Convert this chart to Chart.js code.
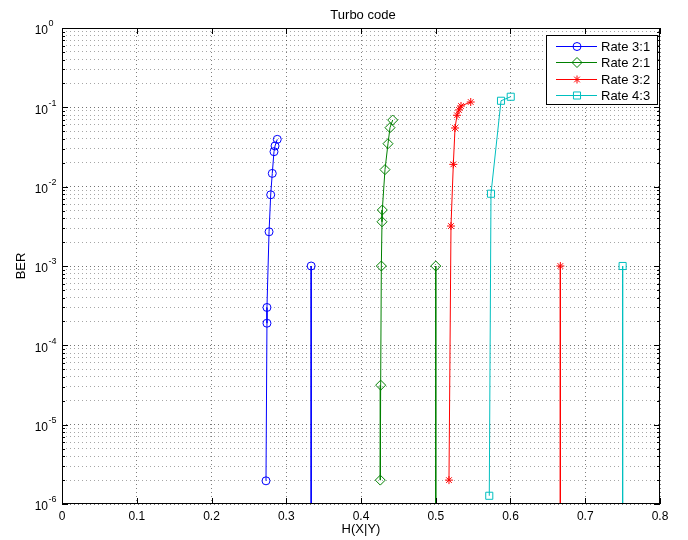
<!DOCTYPE html>
<html>
<head>
<meta charset="utf-8">
<script src="https://cdn.jsdelivr.net/npm/chart.js@4.4.1/dist/chart.umd.min.js"></script>
<style>
  html, body { margin: 0; padding: 0; background: #fff; }
</style>
</head>
<body>
<canvas id="berChart" width="688" height="540"></canvas>
<script>
// values
const seriesNames = ["Rate 3:1", "Rate 2:1", "Rate 3:2", "Rate 4:3"];

const rate31X = [0.288, 0.285, 0.2836, 0.2813, 0.2792, 0.277, 0.2742, 0.2742, 0.2729];
const rate31Y = [0.0395, 0.0326, 0.0276, 0.0147, 0.0079, 0.0027, 3.0e-4, 1.9e-4, 1.96e-6];

const rate21X = [0.4424, 0.4388, 0.4361, 0.4321, 0.4285, 0.4281, 0.4272, 0.4263, 0.4258];
const rate21Y = [0.0692, 0.0554, 0.0348, 0.0164, 0.00508, 0.00361, 1.0e-3, 3.15e-5, 2.0e-6];

const rate32X = [0.5468, 0.5338, 0.5311, 0.5284, 0.5258, 0.5235, 0.5204, 0.5177];
const rate32Y = [0.1167, 0.104, 0.0927, 0.0794, 0.0549, 0.0191, 0.00319, 2.0e-6];

const rate43X = [0.5716, 0.5739, 0.5873, 0.6003];
const rate43Y = [1.27e-6, 0.00815, 0.121, 0.136];

// capacity limits: a marker at 1e-3 and a line dropping off the bottom
const limitX = [1 / 3, 0.5, 2 / 3, 0.75];
const limitTopY = 1e-3;
const limitBottomY = 1e-9;

const xTicks = [0, 0.1, 0.2, 0.3, 0.4, 0.5, 0.6, 0.7, 0.8];
const xTickLabels = ["0", "0.1", "0.2", "0.3", "0.4", "0.5", "0.6", "0.7", "0.8"];
const yDecades = [-6, -5, -4, -3, -2, -1, 0];
const yExponentLabels = ["-6", "-5", "-4", "-3", "-2", "-1", "0"];

const colors = ["#0000ff", "#008000", "#ff0000", "#00bfbf"];
const markers = ["circle", "rectRot", "star", "rect"];
const markerSizes = [4, 5, 4, 5];

const FONT = "'Liberation Sans', Arial, Helvetica, sans-serif";

const yTickValues = [];
yDecades.forEach(d => {
  yTickValues.push(Math.pow(10, d));
  if (d < 0) {
    for (let m = 2; m <= 9; m++) yTickValues.push(m * Math.pow(10, d));
  }
});

function isDecade(v) {
  const l = Math.log10(v);
  return Math.abs(l - Math.round(l)) < 1e-9;
}

function points(xs, ys) {
  return xs.map((x, i) => ({ x: x, y: ys[i] }));
}

const curveXs = [rate31X, rate21X, rate32X, rate43X];
const curveYs = [rate31Y, rate21Y, rate32Y, rate43Y];

const datasets = [];
seriesNames.forEach((name, i) => {
  datasets.push({
    label: name,
    data: points(curveXs[i], curveYs[i]),
    showLine: true,
    borderColor: colors[i],
    borderWidth: 1,
    pointStyle: markers[i],
    pointRadius: markerSizes[i],
    pointBorderColor: colors[i],
    pointBackgroundColor: "rgba(0,0,0,0)",
    pointBorderWidth: 1,
    tension: 0
  });
});
seriesNames.forEach((name, i) => {
  datasets.push({
    label: name + " limit",
    data: [{ x: limitX[i], y: limitTopY }, { x: limitX[i], y: limitBottomY }],
    showLine: true,
    borderColor: colors[i],
    borderWidth: 1,
    pointStyle: markers[i],
    pointRadius: [markerSizes[i], 0],
    pointBorderColor: colors[i],
    pointBackgroundColor: "rgba(0,0,0,0)",
    pointBorderWidth: 1,
    tension: 0
  });
});

// box, inward ticks, y labels with exponents, titles and the legend
const matlabDecor = {
  id: "matlabDecor",
  afterDraw(chart) {
    const ctx = chart.ctx;
    const a = chart.chartArea;
    const xs = chart.scales.x;
    const ys = chart.scales.y;
    ctx.save();

    ctx.strokeStyle = "#000";
    ctx.lineWidth = 1;
    ctx.strokeRect(Math.round(a.left) + 0.5, Math.round(a.top) + 0.5,
      Math.round(a.right - a.left) - 1, Math.round(a.bottom - a.top) - 1);

    ctx.beginPath();
    xTicks.forEach(v => {
      const px = Math.round(xs.getPixelForValue(v)) + 0.5;
      ctx.moveTo(px, a.bottom); ctx.lineTo(px, a.bottom - 6);
      ctx.moveTo(px, a.top); ctx.lineTo(px, a.top + 6);
    });
    yTickValues.forEach(v => {
      const py = Math.round(ys.getPixelForValue(v)) + 0.5;
      const len = isDecade(v) ? 6 : 3;
      ctx.moveTo(a.left, py); ctx.lineTo(a.left + len, py);
      ctx.moveTo(a.right, py); ctx.lineTo(a.right - len, py);
    });
    ctx.stroke();

    ctx.fillStyle = "#000";
    ctx.textBaseline = "middle";
    yDecades.forEach((d, i) => {
      const py = ys.getPixelForValue(Math.pow(10, d));
      ctx.font = "12px " + FONT;
      ctx.textAlign = "right";
      ctx.fillText("10", 48, py + 3);
      ctx.font = "9px " + FONT;
      ctx.textAlign = "left";
      ctx.fillText(yExponentLabels[i], 48.5, py - 4);
    });

    ctx.font = "13px " + FONT;
    ctx.textAlign = "center";
    const cx = (a.left + a.right) / 2;
    ctx.fillText("Turbo code", cx + 2, 15);
    ctx.fillText("H(X|Y)", cx, 529);
    ctx.save();
    ctx.translate(21, (a.top + a.bottom) / 2);
    ctx.rotate(-Math.PI / 2);
    ctx.fillText("BER", 0, 0);
    ctx.restore();

    const lx = 546.5, ly = 35.5, lw = 111, lh = 69;
    ctx.fillStyle = "#fff";
    ctx.fillRect(lx, ly, lw, lh);
    ctx.strokeStyle = "#000";
    ctx.strokeRect(lx, ly, lw, lh);
    seriesNames.forEach((name, i) => {
      const ry = Math.round(46 + i * 16.4) + 0.5;
      ctx.strokeStyle = colors[i];
      ctx.lineWidth = 1;
      ctx.beginPath();
      ctx.moveTo(556, ry); ctx.lineTo(597, ry);
      ctx.stroke();
      ctx.fillStyle = "rgba(0,0,0,0)";
      Chart.helpers.drawPoint(ctx, {
        pointStyle: markers[i], radius: markerSizes[i], rotation: 0, borderWidth: 1
      }, 577, ry);
      ctx.fillStyle = "#000";
      ctx.font = "13px " + FONT;
      ctx.textAlign = "left";
      ctx.fillText(name, 601, ry + 1);
    });
    ctx.restore();
  }
};

new Chart(document.getElementById("berChart").getContext("2d"), {
  type: "scatter",
  data: { datasets: datasets },
  options: {
    responsive: false,
    animation: false,
    layout: { padding: { top: 28, right: 28, left: 0, bottom: 0 } },
    plugins: {
      legend: { display: false },
      title: { display: false },
      tooltip: { enabled: false }
    },
    scales: {
      x: {
        type: "linear",
        min: 0,
        max: 0.8,
        afterBuildTicks(scale) {
          scale.ticks = xTicks.map(v => ({ value: v }));
        },
        afterFit(scale) { scale.height = 36; },
        ticks: {
          autoSkip: false,
          maxRotation: 0,
          padding: 5,
          color: "#000",
          font: { family: FONT, size: 12 },
          callback: (value, index) => xTickLabels[index]
        },
        grid: { color: "rgba(0,0,0,0.5)", lineWidth: 1, drawTicks: false },
        border: { display: false, dash: [1, 3] }
      },
      y: {
        type: "logarithmic",
        min: 1e-6,
        max: 1,
        afterBuildTicks(scale) {
          scale.ticks = yTickValues.map(v => ({ value: v, major: isDecade(v) }));
        },
        afterFit(scale) { scale.width = 62; },
        ticks: { autoSkip: false, callback: () => "" },
        grid: {
          color: ctx => (ctx.tick && isDecade(ctx.tick.value)) ? "rgba(0,0,0,0.55)" : "rgba(0,0,0,0.35)",
          lineWidth: 1,
          drawTicks: false
        },
        border: { display: false, dash: [1, 3] }
      }
    }
  },
  plugins: [matlabDecor]
});
</script>
</body>
</html>
